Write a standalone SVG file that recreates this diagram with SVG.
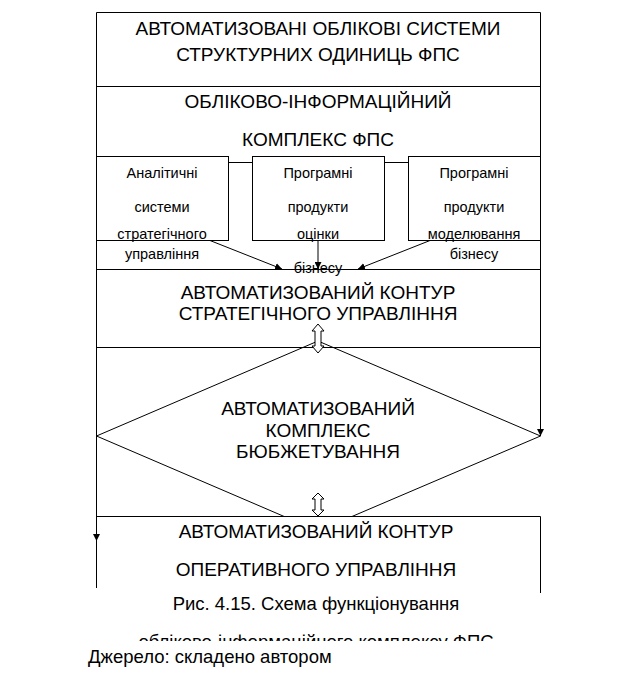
<svg xmlns="http://www.w3.org/2000/svg" width="637" height="691" viewBox="0 0 637 691">
<defs>
<style>
.ln{stroke:#000;stroke-width:1;fill:none}
.bx{stroke:#000;stroke-width:1;fill:#fff}
.big{font-family:"Liberation Sans",Arial,sans-serif;font-size:19px;fill:#000;text-anchor:middle}
.sm{font-family:"Liberation Sans",Arial,sans-serif;font-size:14.5px;fill:#000;text-anchor:middle}
.cap{font-family:"Liberation Sans",Arial,sans-serif;font-size:18.5px;fill:#000}
.dbl{stroke:#000;stroke-width:1;fill:#fff}
</style>
<marker id="ah" viewBox="0 0 10 10" refX="10" refY="5" markerWidth="7" markerHeight="7" orient="auto" markerUnits="userSpaceOnUse">
<path d="M0,0 L10,5 L0,10 Z" fill="#000"/>
</marker>
<clipPath id="capclip"><rect x="0" y="600" width="637" height="41"/></clipPath>
</defs>
<rect width="637" height="691" fill="#fff"/>

<g id="frame">
<line class="ln" x1="96.5" y1="12.5" x2="540.5" y2="12.5"/>
<line class="ln" x1="96.5" y1="86.5" x2="540.5" y2="86.5"/>
</g>

<g id="n-title">
<text class="big" x="318" y="35">АВТОМАТИЗОВАНІ ОБЛІКОВІ СИСТЕМИ</text>
<text class="big" x="318" y="61">СТРУКТУРНИХ ОДИНИЦЬ ФПС</text>
</g>

<g id="n-complex">
<text class="big" x="318" y="108">ОБЛІКОВО-ІНФОРМАЦІЙНИЙ</text>
<text class="big" x="318" y="146">КОМПЛЕКС ФПС</text>
</g>

<g id="n-box1">
<rect class="bx" x="96.5" y="156.5" width="132" height="84"/>
<text class="sm" x="162" y="178">Аналітичні</text>
<text class="sm" x="162" y="212">системи</text>
<text class="sm" x="162" y="239">стратегічного</text>
<text class="sm" x="162" y="259">управління</text>
</g>

<g id="n-box2">
<rect class="bx" x="252.5" y="156.5" width="132" height="84"/>
<text class="sm" x="318" y="178">Програмні</text>
<text class="sm" x="318" y="212">продукти</text>
<text class="sm" x="318" y="239">оцінки</text>
<text class="sm" x="318" y="273">бізнесу</text>
</g>

<g id="n-box3">
<rect class="bx" x="408.5" y="156.5" width="132" height="84"/>
<text class="sm" x="474" y="178">Програмні</text>
<text class="sm" x="474" y="212">продукти</text>
<text class="sm" x="474" y="239">моделювання</text>
<text class="sm" x="474" y="259">бізнесу</text>
</g>

<g id="n-strategic">
<line class="ln" x1="96.5" y1="269.5" x2="540.5" y2="269.5"/>
<line class="ln" x1="96.5" y1="347.5" x2="540.5" y2="347.5"/>
<text class="big" x="318" y="299">АВТОМАТИЗОВАНИЙ КОНТУР</text>
<text class="big" x="318" y="320">СТРАТЕГІЧНОГО УПРАВЛІННЯ</text>
</g>

<g id="n-budget">
<polygon class="ln" points="318,341 540.5,436 318,531 96.5,436"/>
<text class="big" x="318" y="415">АВТОМАТИЗОВАНИЙ</text>
<text class="big" x="318" y="437">КОМПЛЕКС</text>
<text class="big" x="318" y="458">БЮБЖЕТУВАННЯ</text>
</g>

<g id="n-operational">
<rect x="97" y="516" width="443" height="80" fill="#fff"/>
<line class="ln" x1="96.5" y1="516.5" x2="540.5" y2="516.5"/>
<line class="ln" x1="540.5" y1="516.5" x2="540.5" y2="593"/>
<text class="big" x="316" y="538">АВТОМАТИЗОВАНИЙ КОНТУР</text>
<text class="big" x="316" y="576">ОПЕРАТИВНОГО УПРАВЛІННЯ</text>
</g>

<g id="connectors">
<line class="ln" x1="96.5" y1="12.5" x2="96.5" y2="588"/>
<line class="ln" x1="96.5" y1="500" x2="96.5" y2="541" marker-end="url(#ah)"/>
<line class="ln" x1="540.5" y1="12.5" x2="540.5" y2="436" marker-end="url(#ah)"/>
<line class="ln" x1="228.5" y1="162.5" x2="252.5" y2="162.5"/>
<line class="ln" x1="384.5" y1="162.5" x2="408.5" y2="162.5"/>
<line class="ln" x1="210" y1="240.5" x2="282" y2="269" marker-end="url(#ah)"/>
<line class="ln" x1="318" y1="240.5" x2="318" y2="269" marker-end="url(#ah)"/>
<line class="ln" x1="430" y1="240.5" x2="358" y2="269" marker-end="url(#ah)"/>
<polygon class="dbl" points="318,324 324,331 321,331 321,346 324,346 318,353 312,346 315,346 315,331 312,331"/>
<polygon class="dbl" points="318,493 324,499 321,499 321,510 324,510 318,516 312,510 315,510 315,499 312,499"/>
</g>

<g id="caption">
<text class="cap" x="316" y="610" text-anchor="middle">Рис. 4.15. Схема функціонування</text>
<g clip-path="url(#capclip)">
<text class="cap" x="316" y="648" text-anchor="middle">обліково-інформаційного комплексу ФПС</text>
</g>
<text class="cap" x="88" y="663">Джерело: складено автором</text>
</g>
</svg>
